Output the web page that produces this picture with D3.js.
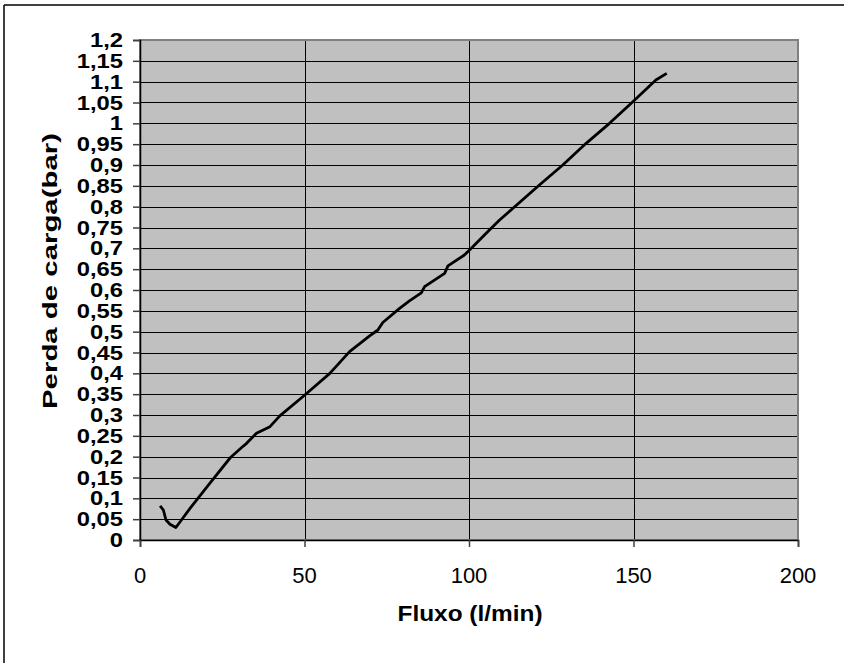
<!DOCTYPE html>
<html><head><meta charset="utf-8">
<script src="https://cdn.jsdelivr.net/npm/d3@7"></script>
<style>body{margin:0;background:#fff}svg{display:block}</style>
</head><body>
<script>
const flow = [6.1,7.1,7.9,9.1,10.9,12.6,15.2,21.2,27.5,30.9,32.4,35.4,39.5,42.5,50.1,57.7,63.7,69.8,72.3,73.8,78.9,81.9,85.5,86.5,92.6,93.6,98.6,100.7,106.2,109.3,121.4,128.5,135.6,142.7,149.8,156.8,160.1];
const loss = [0.082,0.072,0.048,0.038,0.030,0.048,0.076,0.136,0.198,0.222,0.232,0.256,0.272,0.298,0.348,0.400,0.452,0.490,0.504,0.522,0.556,0.574,0.593,0.608,0.640,0.658,0.684,0.700,0.744,0.768,0.852,0.900,0.952,1.000,1.052,1.104,1.120];
const xTicks = [0,50,100,150,200];
const yTicks = [0,0.05,0.1,0.15,0.2,0.25,0.3,0.35,0.4,0.45,0.5,0.55,0.6,0.65,0.7,0.75,0.8,0.85,0.9,0.95,1,1.05,1.1,1.15,1.2];
const xTitle = "Fluxo (l/min)";
const yTitle = "Perda de carga(bar)";

const W = 844, H = 663;
const L = 140, R = 798, T = 40, B = 540;
const svg = d3.select("body").append("svg").attr("width", W).attr("height", H);

svg.append("line").attr("x1",4).attr("y1",5).attr("x2",W).attr("y2",5).attr("stroke","#000").attr("stroke-width",1.5);
svg.append("line").attr("x1",4).attr("y1",5).attr("x2",4).attr("y2",H).attr("stroke","#000").attr("stroke-width",1.5);

const x = d3.scaleLinear().domain([0,200]).range([L,R]);
const y = d3.scaleLinear().domain([0,1.2]).range([B,T]);

svg.append("rect").attr("x",L).attr("y",T).attr("width",R-L).attr("height",B-T).attr("fill","#c0c0c0");

svg.append("g").selectAll("line").data(yTicks.filter(v=>v>0 && v<1.2)).join("line")
  .attr("x1",L).attr("x2",R).attr("y1",d=>Math.round(y(d))+0.5).attr("y2",d=>Math.round(y(d))+0.5)
  .attr("stroke","#000").attr("stroke-width",1);
svg.append("g").selectAll("line").data(xTicks.filter(v=>v>0 && v<200)).join("line")
  .attr("y1",T).attr("y2",B).attr("x1",d=>Math.round(x(d))+0.5).attr("x2",d=>Math.round(x(d))+0.5)
  .attr("stroke","#000").attr("stroke-width",1);

svg.append("rect").attr("x",L).attr("y",T).attr("width",R-L).attr("height",B-T)
  .attr("fill","none").attr("stroke","#808080").attr("stroke-width",2);

const yAxis = d3.axisLeft(y).tickValues(yTicks).tickSize(7).tickFormat("");
const gy = svg.append("g").attr("transform",`translate(${L},0)`).call(yAxis);
gy.select(".domain").attr("stroke","#000").attr("stroke-width",1.5);
gy.selectAll(".tick line").attr("stroke","#404040").attr("stroke-width",1.5);

const xAxis = d3.axisBottom(x).tickValues(xTicks).tickSize(7).tickFormat("");
const gx = svg.append("g").attr("transform",`translate(0,${B})`).call(xAxis);
gx.select(".domain").attr("stroke","#000").attr("stroke-width",1.5);
gx.selectAll(".tick line").attr("stroke","#404040").attr("stroke-width",1.5);

svg.append("g").selectAll("text").data(yTicks).join("text")
  .attr("transform",d=>`translate(123,${y(d)+7}) scale(1.22,1)`)
  .attr("text-anchor","end")
  .style("font-family","'Liberation Sans', Arial, sans-serif").style("font-weight","bold").style("font-size","19.5px")
  .text(d=>String(d).replace(".",","));

svg.append("g").selectAll("text").data(xTicks).join("text")
  .attr("x",d=>x(d)).attr("y",583).attr("text-anchor","middle")
  .style("font-family","'Liberation Sans', Arial, sans-serif").style("font-size","22px")
  .text(d=>d);

svg.append("text").attr("x",470).attr("y",621).attr("text-anchor","middle")
  .style("font-family","'Liberation Sans', Arial, sans-serif").style("font-weight","bold").style("font-size","22px")
  .attr("textLength",145).attr("lengthAdjust","spacingAndGlyphs")
  .text(xTitle);
svg.append("text").attr("transform","translate(57,271) rotate(-90)").attr("text-anchor","middle")
  .style("font-family","'Liberation Sans', Arial, sans-serif").style("font-weight","bold").style("font-size","21px")
  .attr("textLength",276).attr("lengthAdjust","spacingAndGlyphs")
  .text(yTitle);

const line = d3.line().x((d,i)=>x(flow[i])).y((d,i)=>y(loss[i]));
svg.append("path").datum(loss).attr("d",line).attr("fill","none")
  .attr("stroke","#000").attr("stroke-width",2.8).attr("stroke-linejoin","round");
</script>
</body></html>
